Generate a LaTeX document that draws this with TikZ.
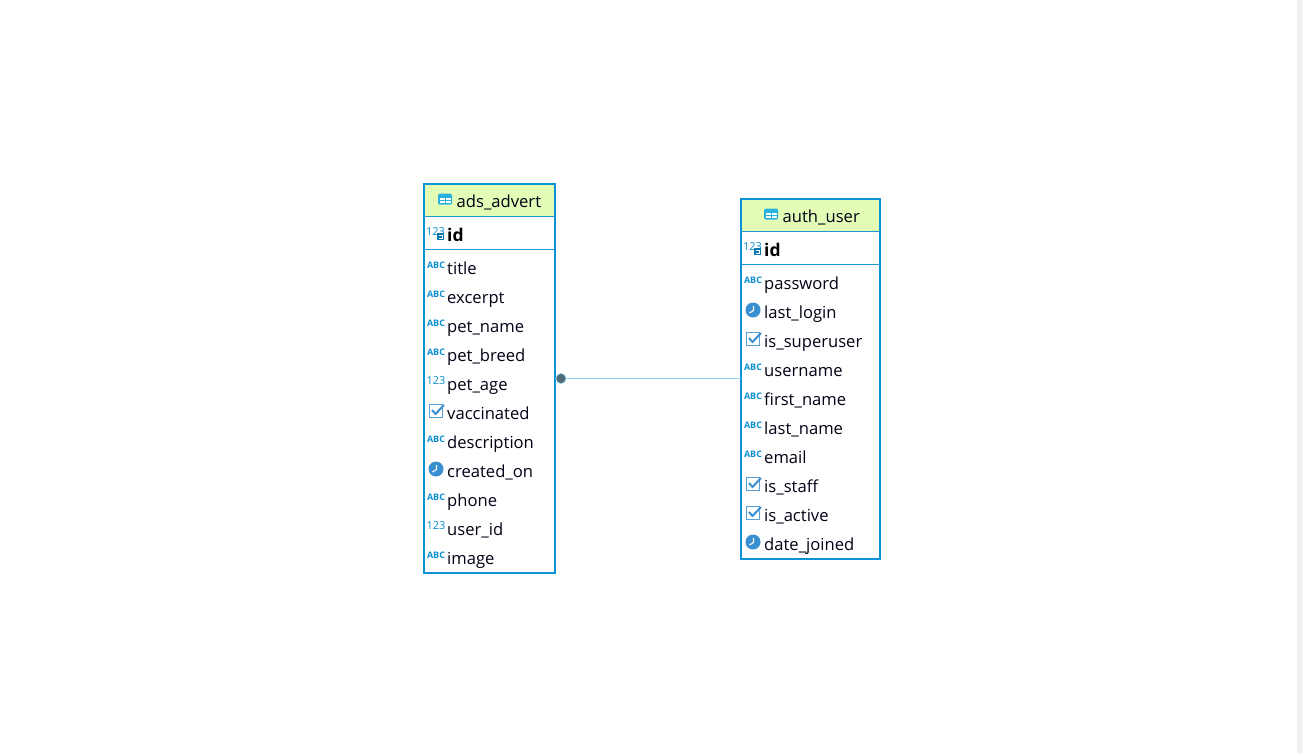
\documentclass[tikz,border=0pt]{standalone}
\usepackage{fontspec}
\setmainfont{Open Sans}
\definecolor{tblborder}{HTML}{0A94D6}
\definecolor{headfill}{HTML}{E4FDB6}
\definecolor{sepline}{HTML}{1C98D0}
\definecolor{iconblue}{HTML}{0A8FD0}
\definecolor{softblue}{HTML}{3A8FD0}
\definecolor{linkblue}{HTML}{86D2EE}
\definecolor{dotgrey}{HTML}{4F6B78}
\definecolor{scrollgrey}{HTML}{F0F0F0}
\tikzset{
  tablebox/.style={draw=tblborder,line width=2pt,inner sep=0pt,outer sep=0pt,anchor=north west},
  headbox/.style={fill=headfill,inner sep=0pt,outer sep=0pt,anchor=north west},
  seprule/.style={draw=sepline,line width=1pt},
  title/.style={inner sep=0pt,anchor=base west,font=\fontsize{16.6}{17}\selectfont,text=black!92!blue},
  col/.style={inner sep=0pt,anchor=base west,font=\fontsize{16.6}{17}\selectfont,text=black!92!blue},
  keycol/.style={col,font=\fontsize{17.5}{17}\selectfont\bfseries,text=black},
  abc/.style={inner sep=0pt,anchor=center,font=\fontsize{9}{9}\selectfont\bfseries,text=iconblue},
  num/.style={inner sep=0pt,anchor=center,font=\fontsize{11}{11}\selectfont,text=iconblue},
}
% #1 = x of icon centre, #2 = y of icon centre
\newcommand{\iconAbc}[2]{\node[abc] at (#1,#2) {ABC};}
\newcommand{\iconNum}[2]{\node[num] at (#1,#2) {123};}
\newcommand{\iconClock}[2]{%
  \fill[softblue] (#1,#2) circle[radius=7.5];
  \draw[white,line width=1.1pt] (#1+0.5,#2-4) -- (#1+0.5,#2+0.5) -- (#1-3.5,#2+3);}
\newcommand{\iconCheck}[2]{%
  \draw[softblue!85!white,line width=1.4pt] (#1-6.5,#2-6.5) rectangle (#1+6.5,#2+6.5);
  \draw[softblue,line width=2pt] (#1-4,#2-1) -- (#1-0.5,#2+3) -- (#1+8,#2-6);}
\newcommand{\iconTable}[2]{%
  \fill[softblue!70!cyan,rounded corners=1.5pt] (#1-7,#2-5.5) rectangle (#1+7,#2+5.5);
  \fill[white] (#1-5.5,#2-1) rectangle (#1-0.5,#2+1);
  \fill[white] (#1+0.5,#2-1) rectangle (#1+5.5,#2+1);
  \fill[white] (#1-5.5,#2+2) rectangle (#1-0.5,#2+4);
  \fill[white] (#1+0.5,#2+2) rectangle (#1+5.5,#2+4);}
\newcommand{\iconKey}[2]{%
  \node[num] at (#1-0.5,#2-1.5) {123};
  \fill[iconblue!85!black] (#1+0.5,#2) rectangle (#1+8,#2+7);
  \draw[white,line width=0.9pt] (#1+2.5,#2+2) -- (#1+6,#2+2) -- (#1+6,#2+5) -- (#1+2.5,#2+5);}
\begin{document}
\begin{tikzpicture}[x=1pt,y=-1pt]
\useasboundingbox (0,0) rectangle (1302,753);
\fill[white] (0,0) rectangle (1302,753);
\fill[scrollgrey] (1297,0) rectangle (1302,753);

% ads_advert
\node[headbox,minimum width=131pt,minimum height=32pt] (advhead) at (424,184) {};
\node[tablebox,minimum width=131pt,minimum height=389pt] (adv) at (424,184) {};
\draw[seprule] (424,216.5) -- (555,216.5);
\draw[seprule] (424,249.5) -- (555,249.5);
\iconTable{445}{199}
\node[title] (advtitle) at (456.5,207.5) {ads\_advert};
\iconKey{436}{233}
\node[keycol] (advid) at (447,241) {id};
\iconAbc{436}{265.5}\node[col] (a1) at (447,274) {title};
\iconAbc{436}{294.5}\node[col] (a2) at (447,303) {excerpt};
\iconAbc{436}{323.5}\node[col] (a3) at (447,332) {pet\_name};
\iconAbc{436}{352.5}\node[col] (a4) at (447,361) {pet\_breed};
\iconNum{436}{381}\node[col] (a5) at (447,390) {pet\_age};
\iconCheck{436}{411}\node[col] (a6) at (447,419) {vaccinated};
\iconAbc{436}{439.5}\node[col] (a7) at (447,448) {description};
\iconClock{436}{469}\node[col] (a8) at (447,477) {created\_on};
\iconAbc{436}{497.5}\node[col] (a9) at (447,506) {phone};
\iconNum{436}{526}\node[col] (a10) at (447,535) {user\_id};
\iconAbc{436}{555.5}\node[col] (a11) at (447,564) {image};

% auth_user
\node[headbox,minimum width=139pt,minimum height=32pt] (usrhead) at (741,199) {};
\node[tablebox,minimum width=139pt,minimum height=360pt] (usr) at (741,199) {};
\draw[seprule] (741,231.5) -- (880,231.5);
\draw[seprule] (741,264.5) -- (880,264.5);
\iconTable{771}{214}
\node[title] (usrtitle) at (782.5,222.5) {auth\_user};
\iconKey{753}{248}
\node[keycol] (usrid) at (764,256) {id};
\iconAbc{753}{280.5}\node[col] (u1) at (764,289) {password};
\iconClock{753}{310}\node[col] (u2) at (764,318) {last\_login};
\iconCheck{753}{339}\node[col] (u3) at (764,347) {is\_superuser};
\iconAbc{753}{367.5}\node[col] (u4) at (764,376) {username};
\iconAbc{753}{396.5}\node[col] (u5) at (764,405) {first\_name};
\iconAbc{753}{425.5}\node[col] (u6) at (764,434) {last\_name};
\iconAbc{753}{454.5}\node[col] (u7) at (764,463) {email};
\iconCheck{753}{484}\node[col] (u8) at (764,492) {is\_staff};
\iconCheck{753}{513}\node[col] (u9) at (764,521) {is\_active};
\iconClock{753}{542}\node[col] (u10) at (764,550) {date\_joined};

% relationship
\node[circle,fill=dotgrey,draw=linkblue,line width=0.5pt,minimum size=10pt,inner sep=0pt] (dot) at (561,378.5) {};
\draw[linkblue,line width=1pt] (dot) -- (dot -| usr.west);
\draw[linkblue,line width=1pt] (dot) -- (dot -| adv.east);
\end{tikzpicture}
\end{document}
